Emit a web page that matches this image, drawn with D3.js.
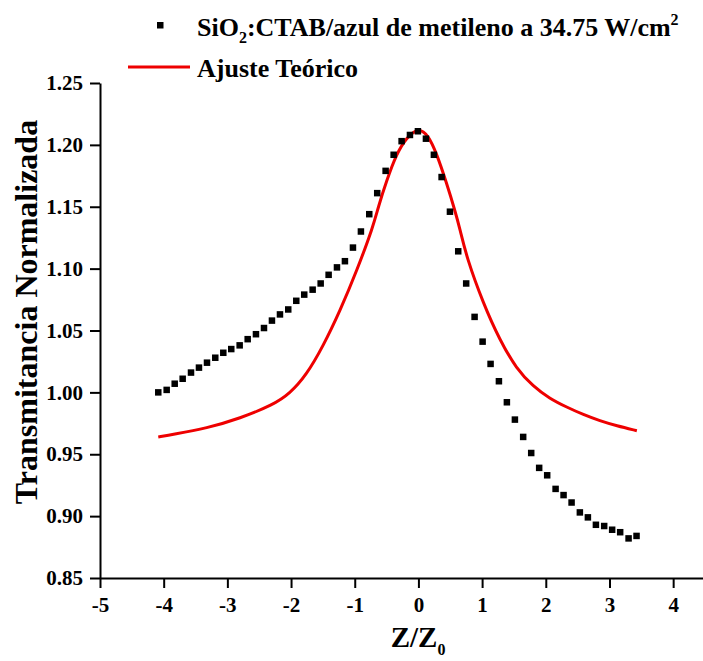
<!DOCTYPE html>
<html>
<head>
<meta charset="utf-8">
<script src="https://cdn.jsdelivr.net/npm/d3@7"></script>
<style>
  body { margin: 0; background: #fff; }
  svg text { font-family: "Liberation Serif", "Times New Roman", serif; font-weight: bold; }
</style>
</head>
<body>
<div id="chart"></div>
<script>
// measured points (Z/Z0, normalized transmittance)
const zData = [-4.085, -3.953, -3.827, -3.702, -3.571, -3.446, -3.320, -3.190, -3.064, -2.939,
  -2.807, -2.681, -2.551, -2.425, -2.300, -2.174, -2.044, -1.918, -1.793, -1.661,
  -1.535, -1.410, -1.279, -1.154, -1.028, -0.903, -0.772, -0.647, -0.515, -0.389,
  -0.264, -0.133, -0.008, 0.118, 0.243, 0.364, 0.495, 0.625, 0.750, 0.882,
  1.008, 1.133, 1.264, 1.389, 1.515, 1.645, 1.771, 1.896, 2.022, 2.154,
  2.279, 2.405, 2.535, 2.661, 2.787, 2.917, 3.042, 3.168, 3.300, 3.425];
const tData = [1.000, 1.002, 1.007, 1.011, 1.016, 1.020, 1.024, 1.028, 1.032, 1.035,
  1.038, 1.043, 1.047, 1.052, 1.058, 1.063, 1.067, 1.074, 1.079, 1.083,
  1.088, 1.095, 1.101, 1.106, 1.117, 1.130, 1.144, 1.161, 1.179, 1.192,
  1.203, 1.208, 1.211, 1.205, 1.192, 1.174, 1.146, 1.114, 1.088, 1.061,
  1.041, 1.023, 1.009, 0.992, 0.978, 0.964, 0.951, 0.939, 0.933, 0.922,
  0.917, 0.911, 0.903, 0.899, 0.893, 0.892, 0.889, 0.887, 0.882, 0.884];

// theoretical fit curve
const zFit = [-4.085, -3.85, -3.325, -2.80, -2.28, -2.02, -1.76, -1.50, -1.23, -0.97,
  -0.71, -0.63, -0.50, -0.342, -0.185, 0, 0.154, 0.286, 0.443, 0.573,
  0.652, 0.757, 1.017, 1.28, 1.54, 1.80, 2.06, 2.33, 2.59, 2.85, 3.11, 3.43];
const tFit = [0.964, 0.966, 0.971, 0.979, 0.990, 0.999, 1.014, 1.037, 1.066, 1.098,
  1.134, 1.150, 1.171, 1.193, 1.206, 1.214, 1.208, 1.193, 1.169, 1.147,
  1.132, 1.109, 1.072, 1.042, 1.019, 1.005, 0.995, 0.988, 0.982, 0.977, 0.973, 0.969];

const xTicks = [-5, -4, -3, -2, -1, 0, 1, 2, 3, 4];
const xMinor = [-4.5, -3.5, -2.5, -1.5, -0.5, 0.5, 1.5, 2.5, 3.5];
const yTicks = [0.85, 0.90, 0.95, 1.00, 1.05, 1.10, 1.15, 1.20, 1.25];
const yMinor = [0.875, 0.925, 0.975, 1.025, 1.075, 1.125, 1.175, 1.225];

const width = 703, height = 661;
const svg = d3.select("#chart").append("svg")
  .attr("width", width)
  .attr("height", height);

const x = d3.scaleLinear().domain([-5, 4.5]).range([100, 705]);
const y = d3.scaleLinear().domain([0.85, 1.25]).range([578, 83]);

// axes
const gx = svg.append("g").attr("transform", `translate(0,${y(0.85)})`);
gx.call(d3.axisBottom(x).tickValues(xMinor).tickSize(6).tickFormat(""));
gx.call(d3.axisBottom(x).tickValues(xTicks).tickSize(10).tickSizeOuter(0)
  .tickFormat(d => d));
gx.selectAll("path, line").attr("stroke", "#000").attr("stroke-width", 2);
gx.selectAll("text").style("font-size", "21px").attr("dy", "0.8em").attr("y", 17);

const gy = svg.append("g").attr("transform", `translate(${x(-5)},0)`);
gy.call(d3.axisLeft(y).tickValues(yMinor).tickSize(6).tickFormat(""));
gy.call(d3.axisLeft(y).tickValues(yTicks).tickSize(10).tickSizeOuter(0)
  .tickFormat(d3.format(".2f")));
gy.selectAll("path, line").attr("stroke", "#000").attr("stroke-width", 2);
gy.selectAll("text").style("font-size", "21px").attr("x", -17);

// fit curve
const fitPts = zFit.map((z, i) => [z, tFit[i]]);
svg.append("path")
  .datum(fitPts)
  .attr("fill", "none")
  .attr("stroke", "#ee0000")
  .attr("stroke-width", 3)
  .attr("d", d3.line().x(d => x(d[0])).y(d => y(d[1])).curve(d3.curveBasis));

// data squares
const s = 6.5;
svg.selectAll("rect.pt")
  .data(zData.map((z, i) => [z, tData[i]]))
  .enter().append("rect")
  .attr("class", "pt")
  .attr("x", d => x(d[0]) - s / 2)
  .attr("y", d => y(d[1]) - s / 2)
  .attr("width", s)
  .attr("height", s)
  .attr("fill", "#000");

// legend
svg.append("rect").attr("x", 157).attr("y", 22).attr("width", 6.5).attr("height", 6.5).attr("fill", "#000");
const l1 = svg.append("text").attr("x", 197).attr("y", 36).style("font-size", "26px");
l1.append("tspan").text("SiO");
l1.append("tspan").text("2").style("font-size", "16px").attr("dy", 7);
l1.append("tspan").text(":CTAB/azul de metileno a 34.75 W/cm").attr("dy", -7);
l1.append("tspan").text("2").style("font-size", "16px").attr("dy", -11);

svg.append("line").attr("x1", 128).attr("x2", 190).attr("y1", 67).attr("y2", 67)
  .attr("stroke", "#ee0000").attr("stroke-width", 3);
svg.append("text").attr("x", 197).attr("y", 77).style("font-size", "26px").text("Ajuste Teórico");

// axis titles
const xt = svg.append("text").attr("x", 418).attr("y", 647)
  .attr("text-anchor", "middle").style("font-size", "29px");
xt.append("tspan").text("Z/Z");
xt.append("tspan").text("0").style("font-size", "16px").attr("dy", 8);

svg.append("text")
  .attr("transform", `translate(37,312) rotate(-90)`)
  .attr("text-anchor", "middle")
  .style("font-size", "32px")
  .text("Transmitancia Normalizada");
</script>
</body>
</html>
